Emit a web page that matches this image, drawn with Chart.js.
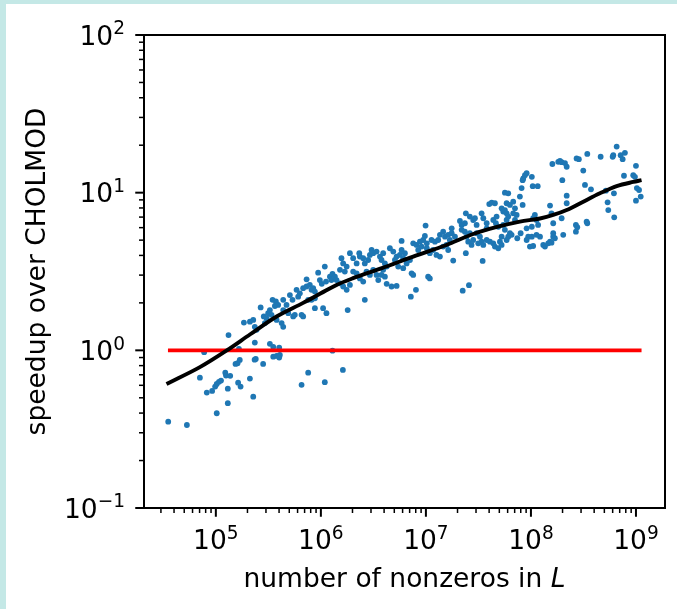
<!DOCTYPE html>
<html>
<head>
<meta charset="utf-8">
<script src="https://cdn.jsdelivr.net/npm/chart.js@4.4.0/dist/chart.umd.min.js"></script>
<style>
  html, body { margin: 0; padding: 0; background: #fff; }
  canvas { display: block; }
</style>
</head>
<body>
<canvas id="grafico" width="677" height="609"></canvas>
<script>
// number of nonzeros in L (x) and speedup over CHOLMOD (y), one entry per matrix
const nnz = [
  3.52e4, 5.30e4, 7.05e4, 7.74e4, 8.2e4, 9.22e4, 9.85e4, 1.02e5, 1.07e5, 1.12e5,
  1.02e5, 1.23e5, 1.25e5, 1.30e5, 1.30e5, 1.32e5, 1.37e5, 1.54e5, 1.61e5, 1.69e5,
  1.63e5, 1.72e5, 1.66e5, 1.85e5, 2.11e5, 2.27e5, 2.40e5, 2.34e5, 2.82e5, 3.52e5,
  3.79e5, 4.07e5, 4.01e5, 6.55e5, 7.57e5, 1.09e6, 1.29e6, 1.62e6, 2.11e5, 2.27e5,
  2.35e5, 2.44e5, 2.35e5, 3.27e5, 3.52e5, 4.01e5, 2.67e5, 2.86e5, 3.04e5, 2.93e5,
  3.15e5, 3.27e5, 3.39e5, 3.47e5, 3.73e5, 3.92e5, 3.65e5, 3.79e5, 4.23e5, 4.38e5,
  4.38e5, 4.71e5, 4.38e5, 4.89e5, 5.07e5, 5.37e5, 5.87e5, 6.08e5, 6.31e5, 5.45e5,
  5.65e5, 6.55e5, 6.78e5, 7.31e5, 6.78e5, 7.31e5, 7.85e5, 8.15e5, 8.45e5, 8.77e5,
  7.57e5, 8.15e5, 8.77e5, 8.77e5, 1.05e6, 1.13e6, 9.42e5, 1.09e6, 9.78e5, 1.02e6,
  1.12e6, 1.22e6, 1.26e6, 1.29e6, 1.36e6, 1.41e6, 1.52e6, 1.57e6, 1.63e6, 1.76e6,
  1.69e6, 1.52e6, 1.63e6, 1.76e6, 1.89e6, 1.80e6, 1.89e6, 2.03e6, 2.19e6, 2.35e6,
  2.32e6, 2.03e6, 2.19e6, 2.35e6, 2.53e6, 2.62e6, 2.53e6, 2.62e6, 2.82e6, 2.93e6,
  3.04e6, 3.15e6, 3.39e6, 2.72e6, 2.93e6, 3.15e6, 3.39e6, 3.52e6, 3.65e6, 3.92e6,
  3.78e6, 4.07e6, 4.23e6, 3.92e6, 3.78e6, 4.07e6, 4.23e6, 4.71e6, 5.26e6, 4.54e6,
  4.89e6, 5.26e6, 5.07e6, 5.65e6, 5.87e6, 6.08e6, 6.31e6, 5.87e6, 5.45e6, 6.08e6,
  6.55e6, 7.05e6, 7.31e6, 7.57e6, 7.19e6, 8.04e6, 7.57e6, 8.15e6, 8.77e6, 9.10e6,
  8.45e6, 9.42e6, 1.02e7, 9.78e6, 1.02e7, 9.93e6, 1.05e7, 1.09e7, 1.09e7, 1.17e7,
  1.26e7, 1.36e7, 1.13e7, 1.22e7, 1.31e7, 1.36e7, 1.46e7, 1.52e7, 1.63e7, 1.76e7,
  1.76e7, 1.89e7, 1.69e7, 1.46e7, 1.57e7, 1.63e7, 1.82e7, 2.11e7, 2.19e7, 2.35e7,
  2.19e7, 2.35e7, 2.44e7, 2.62e7, 2.53e7, 2.72e7, 2.82e7, 2.40e7, 2.62e7, 2.82e7,
  2.93e7, 3.04e7, 2.24e7, 2.57e7, 2.40e7, 3.04e7, 3.27e7, 3.39e7, 3.15e7, 3.52e7,
  3.47e7, 3.39e7, 3.52e7, 3.79e7, 3.79e7, 3.79e7, 4.07e7, 4.38e7, 4.54e7, 4.89e7,
  4.01e7, 4.23e7, 4.38e7, 4.64e7, 4.71e7, 4.89e7, 4.54e7, 5.26e7, 5.45e7, 5.65e7,
  5.87e7, 6.08e7, 5.87e7, 5.45e7, 5.65e7, 5.26e7, 5.87e7, 6.08e7, 6.31e7, 6.55e7,
  5.07e7, 5.26e7, 5.65e7, 6.08e7, 5.87e7, 6.31e7, 6.78e7, 7.05e7, 6.78e7, 7.31e7,
  7.05e7, 7.41e7, 7.98e7, 7.85e7, 8.34e7, 8.15e7, 8.45e7, 8.77e7, 9.10e7, 1.02e8,
  1.04e8, 8.34e7, 9.10e7, 9.42e7, 9.10e7, 1.02e8, 1.02e8, 1.05e8, 1.09e8, 1.13e8,
  9.78e7, 1.05e8, 1.16e8, 1.17e8, 1.22e8, 1.13e8, 1.31e8, 1.36e8, 1.46e8, 1.52e8,
  1.57e8, 1.63e8, 1.69e8, 1.52e8, 1.57e8, 1.63e8, 1.63e8, 1.60e8, 1.82e8, 1.89e8,
  1.96e8, 2.11e8, 2.19e8, 1.99e8, 1.96e8, 2.03e8, 2.19e8, 2.19e8, 2.68e8, 2.76e8,
  2.68e8, 2.72e8, 2.86e8, 3.15e8, 3.27e8, 3.44e8, 3.39e8, 3.44e8, 3.73e8, 4.61e8,
  5.17e8, 5.37e8, 5.45e8, 6.08e8, 6.00e8, 6.17e8, 6.21e8, 6.55e8, 7.15e8, 7.85e8,
  7.47e8, 7.69e8, 9.42e8, 9.78e8, 1.00e9, 1.02e9, 1.07e9, 1.11e9, 1.00e9
];
const speedup = [
  0.353, 0.336, 0.671, 0.973, 0.54, 0.553, 0.589, 0.612, 0.631, 0.643,
  0.399, 0.722, 0.692, 0.571, 0.462, 1.25, 0.689, 0.82, 0.828, 0.869,
  0.624, 0.589, 1.02, 1.50, 0.662, 0.508, 0.881, 0.873, 0.82, 0.912,
  0.921, 0.935, 0.90, 0.604, 0.722, 0.628, 0.995, 0.751, 1.52, 1.56,
  1.41, 1.35, 1.12, 1.10, 1.05, 1.04, 1.87, 1.64, 1.60, 1.49,
  1.72, 1.80, 1.68, 2.09, 2.04, 1.94, 1.91, 1.56, 1.49, 1.41,
  2.09, 1.94, 1.80, 1.72, 2.24, 2.09, 2.42, 2.19, 2.30, 1.64,
  1.68, 1.68, 1.64, 2.82, 2.48, 2.54, 2.60, 2.42, 2.48, 2.36,
  2.09, 2.09, 2.14, 1.85, 1.85, 1.72, 3.11, 3.40, 2.79, 2.64,
  2.73, 2.93, 2.79, 3.05, 2.93, 2.79, 3.24, 3.84, 3.56, 3.40,
  3.16, 2.66, 2.54, 2.42, 2.60, 1.80, 4.13, 3.84, 3.56, 3.93,
  4.13, 3.16, 3.08, 2.86, 2.73, 2.09, 3.84, 3.56, 3.74, 4.03,
  4.33, 4.13, 4.23, 3.16, 3.01, 3.24, 3.01, 2.79, 3.93, 4.13,
  3.74, 3.56, 3.40, 3.24, 3.01, 2.93, 2.64, 2.54, 2.56, 4.44,
  4.23, 3.93, 3.74, 4.03, 4.33, 3.84, 4.13, 4.94, 3.40, 3.32,
  3.56, 3.74, 3.08, 3.01, 2.19, 2.42, 4.77, 4.66, 4.89, 4.55,
  4.33, 5.01, 4.77, 5.31, 4.44, 6.18, 2.93, 2.86, 4.13, 4.33,
  4.03, 3.93, 5.01, 4.89, 5.01, 5.40, 5.66, 5.26, 5.40, 5.94,
  5.53, 5.26, 5.01, 4.55, 4.66, 4.33, 3.71, 6.62, 6.24, 6.40,
  5.81, 5.66, 5.26, 5.53, 4.89, 4.66, 5.01, 7.40, 7.05, 6.71,
  6.88, 6.24, 2.39, 2.59, 4.13, 5.53, 5.26, 4.89, 4.77, 4.66,
  3.69, 7.40, 6.88, 6.40, 5.94, 5.01, 4.89, 4.77, 4.55, 4.44,
  8.47, 8.65, 6.71, 6.40, 7.05, 6.08, 8.57, 7.96, 7.59, 7.76,
  7.40, 7.05, 6.71, 6.24, 5.81, 5.26, 5.01, 5.26, 5.53, 5.40,
  4.89, 4.66, 10.0, 9.9, 8.57, 8.36, 8.77, 7.96, 7.40, 7.22,
  6.71, 5.14, 5.53, 9.44, 8.36, 10.7, 12.3, 12.9, 13.3, 12.6,
  11.0, 12.0, 5.94, 5.26, 5.01, 6.08, 5.26, 6.88, 7.22, 6.71,
  4.55, 4.59, 11.0, 6.24, 5.26, 5.40, 4.66, 4.55, 4.77, 4.89,
  4.82, 5.26, 5.14, 8.28, 7.40, 6.40, 5.53, 15.2, 15.7, 15.9,
  15.6, 15.4, 14.6, 12.0, 6.88, 5.40, 9.57, 8.57, 6.24, 6.04,
  5.66, 16.5, 16.3, 13.8, 11.2, 17.6, 6.55, 6.40, 10.5, 16.9,
  10.3, 8.69, 7.76, 17.3, 16.9, 9.9, 6.98, 19.6, 17.3, 17.9,
  16.3, 12.8, 12.9, 12.6, 14.8, 10.7, 10.4, 9.44, 8.89
];

// smoothed trend (black line)
const fitNnz = [3.39e4, 7.05e4, 1.26e5, 2.11e5, 3.79e5, 6.78e5, 1.0e6, 1.41e6, 2.0e6, 3.81e6,
                7.57e6, 1.57e7, 2.82e7, 4.85e7, 7.85e7, 1.22e8, 1.63e8, 2.19e8, 3.15e8, 4.54e8,
                6.55e8, 9.42e8, 1.13e9];
const fitSpeedup = [0.612, 0.782, 0.995, 1.26, 1.64, 2.0, 2.3, 2.6, 2.86, 3.32,
                    3.93, 4.66, 5.47, 6.08, 6.55, 6.86, 7.22, 7.76, 8.77, 9.9,
                    11.0, 11.7, 12.0];

// speedup = 1 reference (red line)
const refNnz = [3.5e4, 1.13e9];
const refSpeedup = [1, 1];

// tick labels are powers of ten
const xTickExp = [5, 6, 7, 8, 9];
const yTickExp = [-1, 0, 1, 2];

const FONT = 'DejaVu Sans';
const SIZE = 26.5;

const toPoints = (xs, ys) => xs.map((x, i) => ({ x: x, y: ys[i] }));

function drawPower(ctx, exp, x, y, align) {
    const base = '10';
    const sup = exp < 0 ? '\u2212' + Math.abs(exp) : String(exp);
    ctx.font = SIZE + 'px "' + FONT + '"';
    const wb = ctx.measureText(base).width;
    ctx.font = (SIZE * 0.7) + 'px "' + FONT + '"';
    const ws = ctx.measureText(sup).width;
    const w = wb + ws;
    let x0 = x;
    if (align === 'center') x0 = x - w / 2;
    if (align === 'right') x0 = x - w;
    ctx.textAlign = 'left';
    ctx.textBaseline = 'alphabetic';
    ctx.font = SIZE + 'px "' + FONT + '"';
    ctx.fillText(base, x0, y);
    ctx.font = (SIZE * 0.7) + 'px "' + FONT + '"';
    ctx.fillText(sup, x0 + wb, y - 10.5);
}

const decor = {
    id: 'decor',
    beforeDraw(chart) {
        const ctx = chart.ctx;
        ctx.save();
        ctx.fillStyle = '#ffffff';
        ctx.fillRect(0, 0, chart.width, chart.height);
        ctx.fillStyle = '#c4e8e6';
        ctx.fillRect(0, 0, chart.width, 4);
        ctx.fillRect(0, 0, 6, chart.height);
        ctx.restore();
    },
    afterDraw(chart) {
        const ctx = chart.ctx;
        const a = chart.chartArea;
        const xs = chart.scales.x;
        const ys = chart.scales.y;
        ctx.save();
        ctx.strokeStyle = '#000';
        ctx.fillStyle = '#000';

        // frame
        ctx.lineWidth = 2;
        ctx.strokeRect(a.left, a.top, a.right - a.left, a.bottom - a.top);

        // ticks
        const tick = (x1, y1, x2, y2, w) => {
            ctx.lineWidth = w;
            ctx.beginPath();
            ctx.moveTo(x1, y1);
            ctx.lineTo(x2, y2);
            ctx.stroke();
        };
        for (let d = 4; d <= 9; d++) {
            for (let k = 1; k <= 9; k++) {
                const v = k * Math.pow(10, d);
                if (v < xs.min || v > xs.max) continue;
                const p = xs.getPixelForValue(v);
                if (k === 1) tick(p, a.bottom, p, a.bottom + 8.75, 2);
                else tick(p, a.bottom, p, a.bottom + 5, 1.5);
            }
        }
        for (let d = -1; d <= 2; d++) {
            for (let k = 1; k <= 9; k++) {
                const v = k * Math.pow(10, d);
                if (v < ys.min - 1e-9 || v > ys.max + 1e-9) continue;
                const p = ys.getPixelForValue(v);
                if (k === 1) tick(a.left - 8.75, p, a.left, p, 2);
                else tick(a.left - 5, p, a.left, p, 1.5);
            }
        }

        // tick labels
        xTickExp.forEach(e => {
            drawPower(ctx, e, xs.getPixelForValue(Math.pow(10, e)), 549, 'center');
        });
        yTickExp.forEach(e => {
            drawPower(ctx, e, 125, ys.getPixelForValue(Math.pow(10, e)) + 9.7, 'right');
        });

        // axis titles
        ctx.textBaseline = 'alphabetic';
        ctx.textAlign = 'left';
        const t1 = 'number of nonzeros in ';
        const t2 = 'L';
        ctx.font = SIZE + 'px "' + FONT + '"';
        const w1 = ctx.measureText(t1).width;
        ctx.font = 'oblique ' + SIZE + 'px "' + FONT + '"';
        const w2 = ctx.measureText(t2).width;
        const cx = (a.left + a.right) / 2;
        const x0 = cx - (w1 + w2) / 2;
        ctx.font = SIZE + 'px "' + FONT + '"';
        ctx.fillText(t1, x0, 587);
        ctx.font = 'oblique ' + SIZE + 'px "' + FONT + '"';
        ctx.fillText(t2, x0 + w1, 587);

        ctx.translate(45, (a.top + a.bottom) / 2);
        ctx.rotate(-Math.PI / 2);
        ctx.textAlign = 'center';
        ctx.font = SIZE + 'px "' + FONT + '"';
        ctx.fillText('speedup over CHOLMOD', 0, 0);
        ctx.restore();
    }
};

const ctx = document.getElementById('grafico').getContext('2d');
const grafico = new Chart(ctx, {
    type: 'scatter',
    data: {
        datasets: [
            {
                type: 'line',
                data: toPoints(fitNnz, fitSpeedup),
                borderColor: '#000000',
                borderWidth: 3.9,
                pointRadius: 0,
                cubicInterpolationMode: 'monotone',
                order: 0
            },
            {
                type: 'line',
                data: toPoints(refNnz, refSpeedup),
                borderColor: '#ff0000',
                borderWidth: 3.75,
                pointRadius: 0,
                order: 1
            },
            {
                type: 'scatter',
                data: toPoints(nnz, speedup),
                backgroundColor: '#1f77b4',
                borderWidth: 0,
                pointRadius: 2.9,
                order: 2
            }
        ]
    },
    plugins: [decor],
    options: {
        responsive: false,
        animation: false,
        layout: { padding: { left: 0, right: 12, top: 35, bottom: 0 } },
        scales: {
            x: {
                type: 'logarithmic',
                min: 2.07e4,
                max: 1.89e9,
                grid: { display: false },
                border: { display: false },
                ticks: { display: false },
                afterFit(scale) { scale.height = 101; }
            },
            y: {
                type: 'logarithmic',
                min: 0.1,
                max: 100,
                grid: { display: false },
                border: { display: false },
                ticks: { display: false },
                afterFit(scale) { scale.width = 144; }
            }
        },
        plugins: {
            legend: { display: false },
            tooltip: { enabled: false }
        }
    }
});
</script>
</body>
</html>
